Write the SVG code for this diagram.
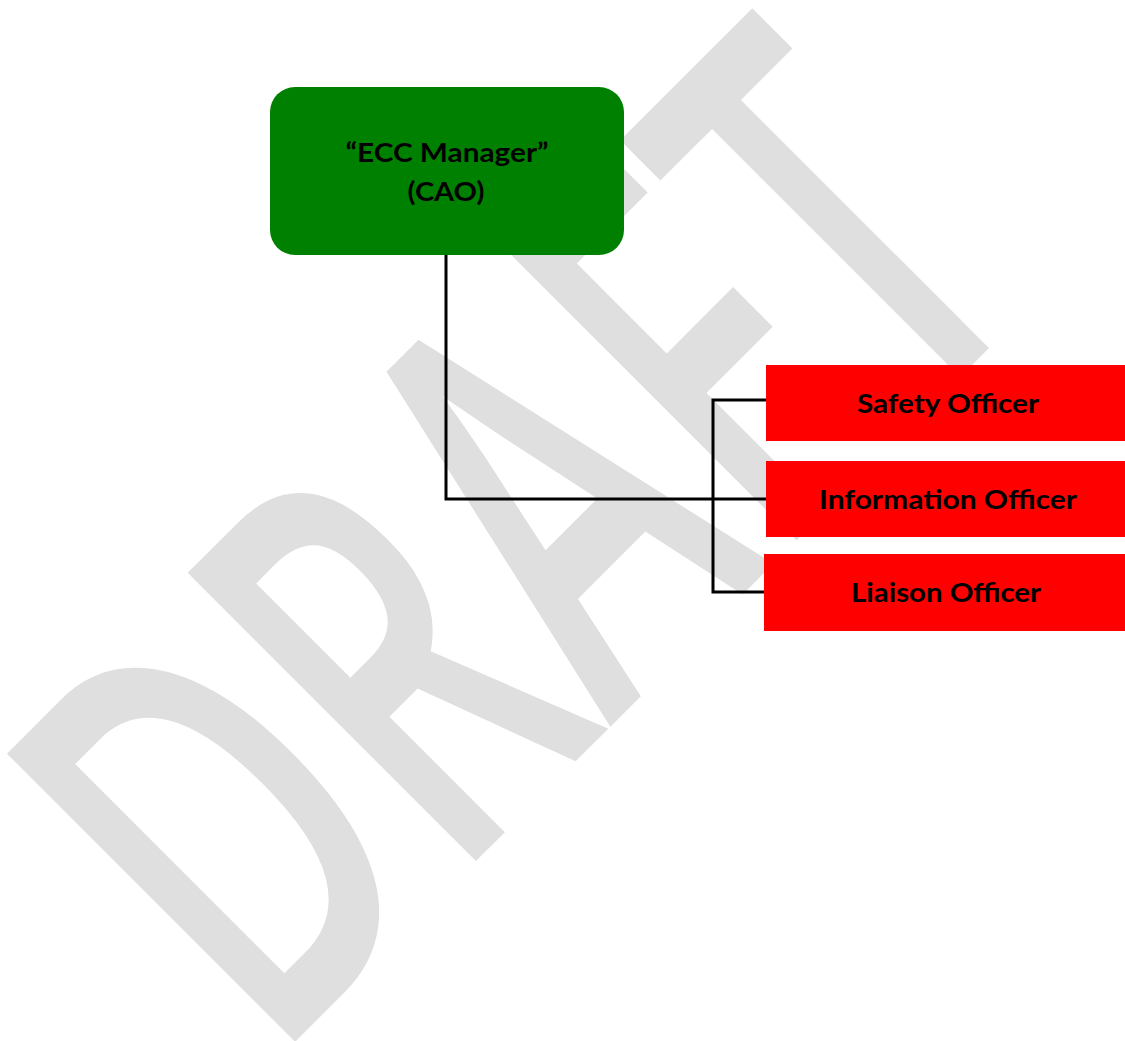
<svg xmlns="http://www.w3.org/2000/svg" width="1125" height="1041" viewBox="0 0 1125 1041">
  <style>
    .mark { font-family: "Open Sans", "Liberation Sans", sans-serif; font-weight: 600; font-size: 571px; fill: #dfdfdf; }
    .lbl { font-family: Lato, "Open Sans", "Liberation Sans", sans-serif; font-weight: 700; font-size: 27.5px; fill: #000; text-anchor: middle; }
    .wire { stroke: #000; stroke-width: 3; fill: none; stroke-linecap: square; }
    .officer { fill: #ff0000; }
  </style>
  <rect width="1125" height="1041" fill="#fff"/>

  <!-- watermark -->
  <text class="mark" transform="translate(272,1065) rotate(-45) scale(0.611,1)" x="0" y="0">DRAFT</text>

  <!-- connectors -->
  <g id="connectors">
    <path class="wire" d="M446 256 V499 H765"/>
    <path class="wire" d="M765 400 H713 V592 H763"/>
  </g>

  <g id="ecc-manager">
    <rect x="270" y="87" width="354" height="168" rx="25" ry="25" fill="#008000"/>
    <text class="lbl" x="447" y="162" textLength="203" lengthAdjust="spacingAndGlyphs">“ECC Manager”</text>
    <text class="lbl" x="446" y="201" textLength="77" lengthAdjust="spacingAndGlyphs">(CAO)</text>
  </g>

  <g id="safety-officer">
    <rect class="officer" x="766" y="365" width="359" height="76"/>
    <text class="lbl" x="948" y="413" textLength="182" lengthAdjust="spacingAndGlyphs">Safety Officer</text>
  </g>

  <g id="information-officer">
    <rect class="officer" x="766" y="461" width="359" height="76"/>
    <text class="lbl" x="948" y="509" textLength="258" lengthAdjust="spacingAndGlyphs">Information Officer</text>
  </g>

  <g id="liaison-officer">
    <rect class="officer" x="764" y="554" width="361" height="77"/>
    <text class="lbl" x="946" y="602" textLength="190" lengthAdjust="spacingAndGlyphs">Liaison Officer</text>
  </g>
</svg>
